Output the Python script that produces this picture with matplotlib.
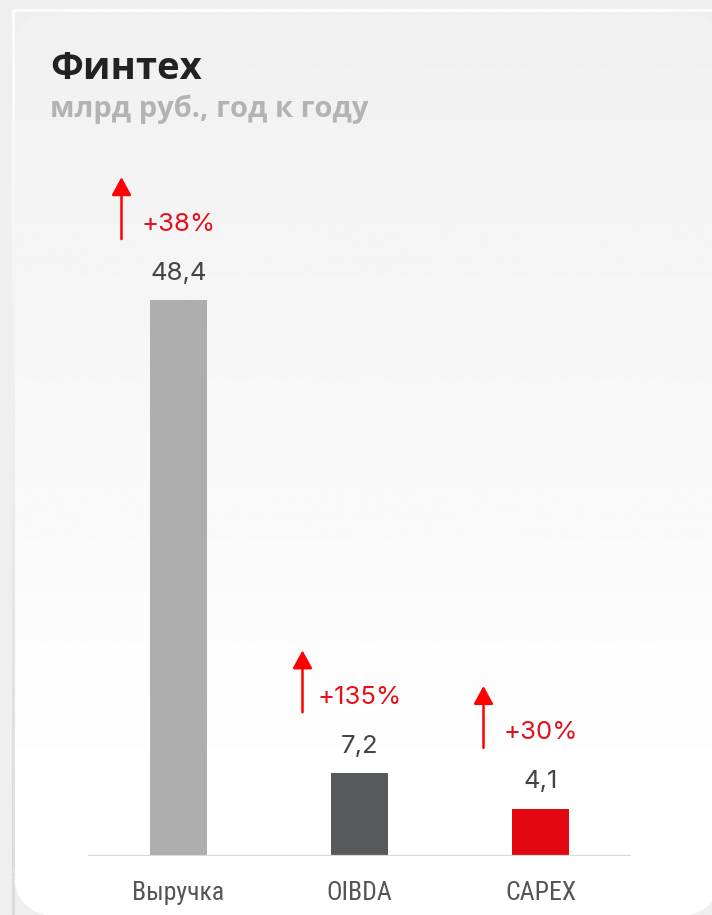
import numpy as np
import matplotlib
matplotlib.use("Agg")
import matplotlib.pyplot as plt
from matplotlib import font_manager
from matplotlib.patches import FancyBboxPatch
from matplotlib.collections import LineCollection
from matplotlib.transforms import offset_copy

plt.rcParams['font.family'] = ['Inter', 'DejaVu Sans']

# данные
categories = ["Выручка", "OIBDA", "CAPEX"]
values = [48.4, 7.2, 4.1]
value_labels = ["48,4", "7,2", "4,1"]
growth_labels = ["+38%", "+135%", "+30%"]
bar_colors = ["#adaead", "#58595b", "#e30613"]

# узкий шрифт для подписей категорий, если есть
installed = {f.name for f in font_manager.fontManager.ttflist}
narrow = [n for n in ['Roboto Condensed', 'Liberation Sans Narrow'] if n in installed]
cat_family = narrow + ['Roboto', 'DejaVu Sans']
cat_size = 18.5 if narrow else 17

W, H = 712, 915
fig = plt.figure(figsize=(W / 100, H / 100), dpi=100)
fig.patch.set_facecolor("#efefef")

# фон карточки
bg = fig.add_axes([0, 0, 1, 1])
bg.set_xlim(0, W)
bg.set_ylim(H, 0)
bg.axis("off")

cx0, cy0, cx1, cy1, rad = 13, 10, 722, 917, 50
card = FancyBboxPatch((cx0, cy0), cx1 - cx0, cy1 - cy0,
                      boxstyle=f"round,pad=0,rounding_size={rad}", fc="none", ec="none")
bg.add_patch(card)
ys = np.linspace(cy0, cy1, 400)
shade = np.clip(240 + (ys - cy0) / (800 - cy0) * 15, 240, 255) / 255
grad = np.repeat(shade[:, None], 2, axis=1)
img = bg.imshow(grad, cmap="gray", vmin=0, vmax=1, extent=[cx0, cx1, cy1, cy0],
                aspect="auto", zorder=0)
img.set_clip_path(card)

# рамка: белая сверху, серая снизу
verts = card.get_path().interpolated(40).vertices
segs = np.stack([verts[:-1], verts[1:]], axis=1)
mid_y = segs[:, :, 1].mean(axis=1)
t = np.clip((mid_y - cy0) / (cy1 - cy0), 0, 1)
lvl = 1.0 - t * (1 - 0.85)
seg_colors = np.stack([lvl, lvl, lvl], axis=1)
bg.add_collection(LineCollection(segs, colors=seg_colors, linewidths=2.2, zorder=1))

bg.text(50, 79, "Финтех", fontsize=27.5, fontweight="bold", color="#222222",
        ha="left", va="baseline", family=['Open Sans', 'Inter', 'DejaVu Sans'])
bg.text(50, 117, "млрд руб., год к году", fontsize=21, fontweight="bold",
        color="#b3b3b3", ha="left", va="baseline",
        family=['Open Sans', 'Inter', 'DejaVu Sans'])

# график
ax_left, ax_right, ax_bottom, ax_top = 88, 631, 856, 150
ax = fig.add_axes([ax_left / W, 1 - ax_bottom / H,
                   (ax_right - ax_left) / W, (ax_bottom - ax_top) / H])
ax.patch.set_alpha(0)
x = np.arange(len(categories))
ax.bar(x, values, width=0.315, color=bar_colors, zorder=2)
ax.set_xlim(-0.5, len(categories) - 0.5)
ax.set_ylim(0, max(values) * 1.27)
ax.axhline(0, color="#d9d9d9", lw=1.6, zorder=3)
for s in ax.spines.values():
    s.set_visible(False)
ax.set_yticks([])
ax.set_xticks(x)
ax.set_xticklabels(categories, fontsize=cat_size, color="#555555", family=cat_family)
ax.tick_params(axis="x", length=0, pad=18)

red = "#e4101b"
for i, v in enumerate(values):
    ax.annotate(value_labels[i], (i, v), xytext=(0, 27), textcoords="offset pixels",
                ha="center", va="center", fontsize=18.5, color="#444444")
    ax.annotate(growth_labels[i], (i, v), xytext=(0, 76), textcoords="offset pixels",
                ha="center", va="center", fontsize=18.5, color=red)
    tip = offset_copy(ax.transData, fig=fig, x=-57, y=123, units="dots")
    tail = offset_copy(ax.transData, fig=fig, x=-57, y=61, units="dots")
    ax.annotate("", xy=(i, v), xycoords=tip, xytext=(i, v), textcoords=tail,
                arrowprops=dict(arrowstyle="-|>,head_length=0.55,head_width=0.3",
                                color="#ff0000", lw=1.8, mutation_scale=20,
                                shrinkA=0, shrinkB=0))

fig.savefig("out.png", dpi=100, facecolor=fig.get_facecolor())
